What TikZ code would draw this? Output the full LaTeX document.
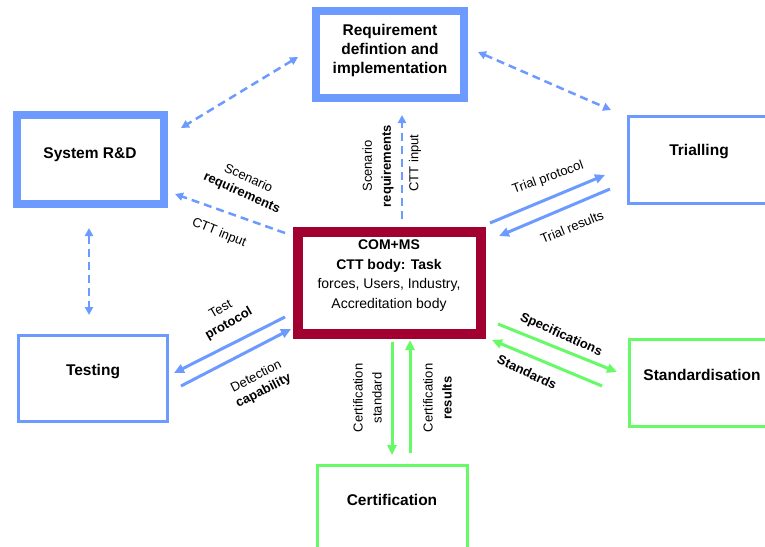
\documentclass[tikz,border=0pt]{standalone}
\usepackage{fontspec}
\setmainfont{Liberation Sans}
\usetikzlibrary{arrows.meta}
\definecolor{boxblue}{RGB}{108,154,255}
\definecolor{boxgreen}{RGB}{102,250,102}
\definecolor{hubred}{RGB}{163,0,50}
\begin{document}
\begin{tikzpicture}[x=1pt,y=-1pt,
  frame/.style={inner sep=0pt, fill=white},
  thickblue/.style={frame, draw=boxblue, line width=8pt},
  thinblue/.style={frame, draw=boxblue, line width=3pt},
  thingreen/.style={frame, draw=boxgreen, line width=3pt},
  hub/.style={frame, draw=hubred, line width=10pt},
  title/.style={font=\fontsize{15.5}{19}\selectfont\bfseries, align=center, inner sep=0pt},
  hubtext/.style={font=\fontsize{14}{19.5}\selectfont, align=center, inner sep=0pt},
  lbl/.style={font=\fontsize{13}{16}\selectfont, align=center, inner sep=0pt},
  vlbl/.style={font=\fontsize{13}{19}\selectfont, align=center, inner sep=0pt, rotate=90},
  dashlink/.style={draw=boxblue, line width=2.5pt, dash pattern=on 8pt off 5pt,
    -{Triangle[length=8pt,width=8pt]}},
  dashboth/.style={dashlink, {Triangle[length=8pt,width=8pt]}-{Triangle[length=8pt,width=8pt]}},
  flowblue/.style={draw=boxblue, line width=3pt, -{Triangle[length=10pt,width=9pt]}},
  flowgreen/.style={draw=boxgreen, line width=3pt, -{Triangle[length=10pt,width=9pt]}}
]
\useasboundingbox (0,0) rectangle (765,546);
\clip (0,0) rectangle (765,546);
\fill[white] (0,0) rectangle (765,546);

% boxes
\node[thickblue, minimum width=148pt, minimum height=87pt] (req) at (390,54.5) {};
\node[thickblue, minimum width=147pt, minimum height=89pt] (srd) at (90.5,159.5) {};
\node[thinblue, minimum width=142pt, minimum height=87pt] (trial) at (699.5,160) {};
\node[thinblue, minimum width=149pt, minimum height=86pt] (test) at (93,378.5) {};
\node[thingreen, minimum width=141pt, minimum height=87pt] (std) at (700,383) {};
\node[thingreen, minimum width=150pt, minimum height=95pt] (cert) at (392.5,513) {};
\node[hub, minimum width=183pt, minimum height=102.5pt] (com) at (389,282.75) {};

% box titles
\node[title] (req-t) at (390,50) {Requirement\\defintion and\\implementation};
\node[title] (srd-t) at (90,155) {System R\&D};
\node[title] (trial-t) at (699,152) {Trialling};
\node[title] (test-t) at (93,372) {Testing};
\node[title] (std-t) at (702,375) {Standardisation};
\node[title] (cert-t) at (392,500) {Certification};
\node[hubtext] (com-t) at (389,275.5) {\textbf{COM+MS}\\\textbf{CTT body: Task}\\forces, Users, Industry,\\Accreditation body};

% connector end points
\coordinate (a1) at (298,57);  \coordinate (a2) at (181,128);
\coordinate (b1) at (478,52);  \coordinate (b2) at (611,110);
\coordinate (c1) at (89,228);  \coordinate (c2) at (89,315);
\coordinate (d1) at (402,219); \coordinate (d2) at (402,115);
\coordinate (e1) at (285,233); \coordinate (e2) at (175,194);
\coordinate (f1) at (490,223); \coordinate (f2) at (605,175);
\coordinate (g1) at (610,189); \coordinate (g2) at (499,236);
\coordinate (h1) at (285,317); \coordinate (h2) at (174,373);
\coordinate (i1) at (181,386); \coordinate (i2) at (291,329);
\coordinate (j1) at (498,324); \coordinate (j2) at (617,372);
\coordinate (k1) at (602,386); \coordinate (k2) at (492,340);
\coordinate (l1) at (392,342); \coordinate (l2) at (392,455);
\coordinate (m1) at (410,453); \coordinate (m2) at (410,340);

% dashed links
\draw[dashboth] (a1) -- (a2);
\draw[dashboth] (b1) -- (b2);
\draw[dashboth] (c1) -- (c2);
\draw[dashlink] (d1) -- (d2);
\draw[dashlink] (e1) -- (e2);

% solid flows
\draw[flowblue] (f1) -- (f2);
\draw[flowblue] (g1) -- (g2);
\draw[flowblue] (h1) -- (h2);
\draw[flowblue] (i1) -- (i2);
\draw[flowgreen] (j1) -- (j2);
\draw[flowgreen] (k1) -- (k2);
\draw[flowgreen] (l1) -- (l2);
\draw[flowgreen] (m1) -- (m2);

% flow labels
\node[lbl, rotate=-24] (lab-scen) at (245,186) {Scenario\\\textbf{requirements}};
\node[lbl, rotate=-22] (lab-ctt) at (219,233) {CTT input};
\node[vlbl] (lab-vscen) at (378,166) {Scenario\\\textbf{requirements}};
\node[vlbl] (lab-vctt) at (415,163) {CTT input};
\node[lbl, rotate=20] (lab-tp) at (548,178) {Trial protocol};
\node[lbl, rotate=22] (lab-tr) at (572,227) {Trial results};
\node[lbl, rotate=30] (lab-test) at (225,317) {Test\\\textbf{protocol}};
\node[lbl, rotate=27] (lab-det) at (260,384) {Detection\\\textbf{capability}};
\node[lbl, rotate=-24, font=\fontsize{13}{16}\selectfont\bfseries] (lab-spec) at (561,335) {Specifications};
\node[lbl, rotate=-25, font=\fontsize{13}{16}\selectfont\bfseries] (lab-stds) at (527,372) {Standards};
\node[vlbl] (lab-cs) at (367.5,398) {Certification\\standard};
\node[vlbl] (lab-cr) at (437.5,398) {Certification\\\textbf{results}};
\end{tikzpicture}
\end{document}
